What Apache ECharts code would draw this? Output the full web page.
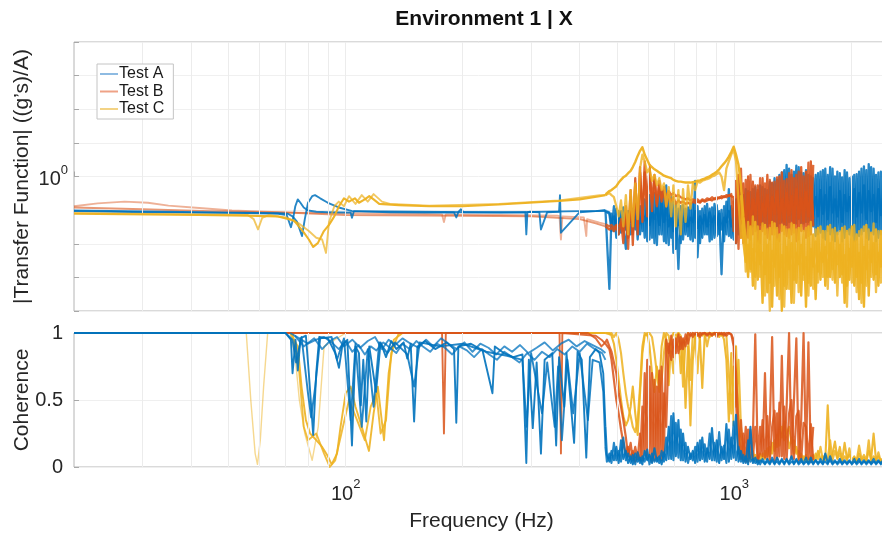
<!DOCTYPE html>
<html><head><meta charset="utf-8">
<script src="https://cdn.jsdelivr.net/npm/echarts@6/dist/echarts.min.js"></script>
<style>html,body{margin:0;padding:0;background:#fff}#c{width:882px;height:535px}</style>
</head><body><div id="c"></div>
<script>
// ---------- shared high-frequency grid (Hz) ----------
const fHi = [470,477,483,490,497,504,511,518,526,533,
541,548,556,564,572,580,588,597,605,614,
623,632,641,650,659,668,678,688,697,707,
718,728,738,749,760,771,782,793,804,816,
827,839,851,864,876,889,901,914,927,941,
954,968,982,996,1010,1025,1040,1055,1070,1085,
1100,1116,1132,1149,1165,1182,1199,1216,1234,1251,
1269,1288,1306,1325,1344,1363,1383,1403,1423,1444,
1464,1486,1507,1529,1551,1573,1596,1619,1642,1666,
1690,1714,1739,1764,1789,1815,1841,1868,1894,1922,
1949,1977,2006,2035,2064,2094,2124,2155,2186,2217,
2249,2282,2315,2348,2382,2416,2451,2486];

// ---------- |Transfer Function| : Test A ----------
const tfA1_f = [20,31,42,56,67,70.5,72.3,73.2,74.2,75.3,76.5,78,80,84,90,100,103,103.8,105,130,160,190,192.6,195,198,201,250,290,291.6,293.5,297,315,318,330,354,356,358,400,440,466];
const tfA1_v = [0.66,0.652,0.649,0.645,0.64,0.63,0.545,0.60,0.70,0.76,0.73,0.69,0.665,0.655,0.652,0.65,0.65,0.61,0.66,0.652,0.65,0.65,0.612,0.655,0.675,0.652,0.652,0.65,0.50,0.65,0.655,0.652,0.53,0.652,0.655,0.80,0.51,0.652,0.66,0.67];
const tfA1_hi = [0.66,0.26,0.64,0.52,0.68,0.50,0.66,0.55,0.42,0.62,
0.50,0.68,0.53,0.72,0.50,0.70,0.48,0.74,0.47,0.78,
0.45,0.80,0.50,0.84,0.46,0.90,0.44,0.78,0.40,0.72,
0.33,0.70,0.47,0.68,0.49,0.72,0.46,0.95,0.38,0.66,
0.48,0.70,0.50,0.68,0.47,0.72,0.49,0.66,0.31,0.70,
0.50,0.86,0.48,0.68,0.45,0.74,0.52,0.80,0.50,0.84,
0.55,0.86,0.52,0.82,0.56,0.88,0.54,0.85,0.58,0.92,
0.55,0.96,0.57,1.05,0.55,1.15,0.58,1.02,0.56,1.14,
0.60,1.05,0.57,1.08,0.58,1.00,0.55,1.02,0.50,1.06,
0.48,1.10,0.52,1.12,0.47,1.00,0.50,1.04,0.46,1.08,
0.52,0.98,0.49,1.02,0.47,1.06,0.50,1.13,0.48,1.16,
0.51,1.10,0.46,1.05,0.50,0.98,0.48,1.00];
const tfA2_f = [20,42,67,71,73,75,77.2,78.5,80,82,83.4,86,90,96,104,150,250,400,466];
const tfA2_v = [0.665,0.652,0.645,0.64,0.62,0.58,0.49,0.60,0.73,0.79,0.80,0.77,0.73,0.69,0.66,0.655,0.65,0.66,0.66];
const tfA2_hi = [0.65,0.64,0.52,0.70,0.48,0.66,0.51,0.69,0.55,0.49,
0.71,0.52,0.74,0.47,0.70,0.52,0.76,0.46,0.80,0.48,
0.82,0.44,0.86,0.50,0.82,0.45,0.80,0.48,0.74,0.42,
0.68,0.45,0.71,0.50,0.69,0.47,0.73,0.48,0.70,0.45,
0.68,0.50,0.72,0.46,0.69,0.48,0.71,0.50,0.67,0.46,
0.74,0.49,0.70,0.47,0.76,0.50,0.82,0.52,0.86,0.54,
0.83,0.55,0.88,0.53,0.90,0.57,0.86,0.55,0.94,0.58,
0.98,0.54,1.02,0.58,1.08,0.56,1.10,0.59,1.06,0.57,
1.12,0.55,1.04,0.58,1.02,0.56,0.98,0.49,1.04,0.51,
1.08,0.47,1.02,0.50,1.10,0.46,1.06,0.52,0.99,0.48,
1.05,0.50,1.00,0.46,1.03,0.49,1.10,0.52,1.08,0.47,
1.12,0.50,1.02,0.48,1.06,0.51,1.00,0.47];
const tfA3_hi = [0.66,0.65,0.58,0.62,0.56,0.64,0.58,0.61,0.53,0.66,
0.58,0.63,0.60,0.66,0.57,0.64,0.59,0.68,0.56,0.66,
0.60,0.70,0.56,0.72,0.58,0.68,0.55,0.64,0.52,0.66,
0.56,0.62,0.58,0.64,0.55,0.61,0.58,0.66,0.54,0.62,
0.57,0.63,0.55,0.65,0.58,0.62,0.56,0.64,0.53,0.61,
0.58,0.66,0.55,0.62,0.60,0.68,0.62,0.72,0.60,0.70,
0.64,0.75,0.62,0.70,0.66,0.78,0.63,0.74,0.68,0.80,
0.66,0.84,0.70,0.78,0.68,0.86,0.72,0.80,0.66,0.88,
0.70,0.82,0.68,0.90,0.72,0.80,0.66,0.78,0.62,0.85,
0.64,0.80,0.60,0.88,0.65,0.76,0.62,0.84,0.58,0.80,
0.66,0.78,0.60,0.86,0.62,0.82,0.65,0.90,0.60,0.84,
0.66,0.80,0.58,0.86,0.63,0.78,0.60,0.82];

// ---------- |Transfer Function| : Test B ----------
const tfB1_f = [20,23,27,31,35,42,51,62,73,100,150,177,179,181,250,350,355,358,361,410,414,416,418,450,466];
const tfB1_v = [0.70,0.725,0.74,0.73,0.705,0.685,0.665,0.655,0.649,0.645,0.64,0.635,0.58,0.635,0.63,0.625,0.622,0.47,0.62,0.612,0.605,0.49,0.60,0.575,0.565];
const tfB1_hi = [0.57,0.55,0.56,0.54,0.56,0.55,0.58,0.52,0.66,0.42,
0.78,0.50,0.92,0.55,1.05,0.60,1.20,0.70,1.10,0.74,
1.02,0.72,0.95,0.78,0.88,0.78,0.84,0.80,0.82,0.79,
0.80,0.78,0.77,0.76,0.77,0.75,0.76,0.75,0.76,0.74,
0.76,0.75,0.77,0.76,0.78,0.76,0.78,0.77,0.79,0.78,
0.80,0.79,0.81,0.52,0.95,0.42,1.10,0.45,0.96,0.48,
1.02,0.50,0.90,0.46,0.98,0.52,0.92,0.48,0.96,0.50,
0.94,0.47,1.00,0.52,0.95,0.49,1.04,0.50,0.98,0.46,
1.06,0.52,1.00,0.48,1.18,0.50,1.15];
const tfB2_f = [20,30,45,73,100,200,300,400,440,466];
const tfB2_v = [0.69,0.675,0.66,0.648,0.63,0.625,0.62,0.60,0.57,0.55];
const tfB2_hi = [0.55,0.53,0.54,0.52,0.55,0.50,0.60,0.45,0.70,0.48,
0.85,0.44,0.98,0.50,1.12,0.58,1.05,0.62,1.15,0.66,
0.98,0.70,0.90,0.74,0.84,0.70,0.80,0.74,0.78,0.72,
0.75,0.73,0.74,0.72,0.73,0.72,0.74,0.73,0.74,0.73,
0.75,0.74,0.75,0.76,0.75,0.77,0.76,0.78,0.77,0.79,
0.78,0.80,0.79,0.78,0.45,1.02,0.48,0.92,0.44,1.00,
0.47,0.94,0.52,0.90,0.45,0.98,0.50,1.02,0.47,0.93,
0.50,0.99,0.46,1.05,0.50,0.97,0.48,1.08,0.51,1.02,
0.47,1.12,0.52,1.06,0.49,1.20,0.55];
const tfB3_start = 53;
const tfB3_hi = [0.75,0.62,0.80,0.58,0.74,0.60,0.82,0.56,0.76,0.63,
0.85,0.58,0.72,0.62,0.80,0.57,0.78,0.64,0.84,0.60,
0.76,0.58,0.82,0.63,0.79,0.56,0.86,0.61,0.77,0.59,
0.83,0.62,0.88,0.60];

// ---------- |Transfer Function| : Test C ----------
const tfC1_f = [20,31,42,56,67,73.6,75.8,78.1,80.4,82.5,84.8,87.9,90.6,93.5,96.1,99,102,105.6,108.2,112,115,118,122,137,164,200,248,297,354,400,450,466];
const tfC1_v = [0.641,0.634,0.63,0.626,0.619,0.59,0.55,0.51,0.47,0.43,0.45,0.52,0.56,0.62,0.70,0.77,0.74,0.77,0.73,0.76,0.79,0.76,0.72,0.71,0.70,0.70,0.715,0.73,0.745,0.76,0.79,0.80];
const tfC1_hi = [0.82,0.84,0.85,0.87,0.89,0.93,0.96,0.99,1.01,1.04,
1.07,1.12,1.19,1.28,1.36,1.42,1.30,1.22,1.15,1.12,
1.09,1.07,1.05,1.03,1.01,1.00,0.99,0.98,0.96,0.95,
0.94,0.94,0.935,0.93,0.93,0.93,0.935,0.94,0.95,0.955,
0.965,0.975,0.99,1.0,1.02,1.04,1.06,1.09,1.13,1.17,
1.21,1.27,1.34,1.43,1.30,1.15,0.90,0.62,0.47,0.30,
0.55,0.27,0.58,0.29,0.52,0.22,0.56,0.25,0.54,0.21,
0.57,0.24,0.50,0.20,0.55,0.26,0.53,0.22,0.56,0.28,
0.54,0.24,0.52,0.21,0.55,0.27,0.50,0.23,0.54,0.29,
0.52,0.27,0.55,0.30,0.53,0.28,0.51,0.30,0.54,0.22,
0.52,0.29,0.55,0.27,0.50,0.23,0.53,0.21,0.56,0.24,
0.51,0.29,0.53,0.27,0.52,0.30,0.50,0.28];
const tfC2_f = [20,42,56,58,59.5,61,63.4,70.6,75.8,80.4,84,87,89,90.6,93.5,96,99,102,106,110,114,118,124,130,164,248,354,450,466];
const tfC2_v = [0.645,0.635,0.63,0.60,0.53,0.61,0.63,0.61,0.57,0.52,0.48,0.47,0.40,0.58,0.70,0.74,0.70,0.79,0.72,0.80,0.74,0.81,0.74,0.72,0.705,0.72,0.75,0.80,0.80];
const tfC2_hi = [0.80,0.82,0.80,0.78,0.70,0.62,0.75,0.55,0.80,0.50,
0.85,0.55,0.92,0.60,1.10,1.30,1.20,1.05,1.10,0.95,
1.02,0.90,0.98,0.85,0.92,0.70,0.88,0.62,0.90,0.55,
0.85,0.50,0.86,0.58,0.90,0.68,0.92,0.85,0.94,0.93,
0.95,0.96,0.97,0.98,1.0,1.01,1.03,1.05,1.0,0.85,
1.1,1.2,1.3,1.38,1.2,0.75,0.48,0.60,0.32,0.58,
0.32,0.62,0.26,0.55,0.30,0.57,0.24,0.53,0.20,0.58,
0.27,0.54,0.23,0.56,0.21,0.53,0.26,0.57,0.22,0.53,
0.25,0.56,0.29,0.54,0.24,0.58,0.26,0.53,0.28,0.55,
0.30,0.52,0.26,0.56,0.29,0.54,0.24,0.52,0.28,0.55,
0.21,0.53,0.28,0.56,0.25,0.52,0.22,0.55,0.27,0.53,
0.30,0.57,0.25,0.52,0.28,0.54,0.26,0.51];
const tfC3_start = 56;
const tfC3_hi = [0.80,0.45,0.36,0.44,0.33,0.42,0.30,0.46,0.35,0.40,
0.31,0.44,0.28,0.41,0.34,0.47,0.30,0.39,0.27,0.43,
0.33,0.45,0.29,0.40,0.35,0.44,0.31,0.38,0.28,0.42,
0.34,0.46,0.32,0.40,0.36,0.43,0.30,0.45,0.33,0.41,
0.35,0.44,0.31,0.39,0.27,0.42,0.34,0.46,0.30,0.40,
0.28,0.43,0.33,0.41,0.36,0.45,0.31,0.40,0.34,0.44,
0.32,0.41];

// ---------- Coherence : Test A ----------
const coA1_f = [20,70,72.3,73,74.3,75.3,76.5,79,80.4,82.5,84,85.5,90,94,96.1,98,101,103.8,106,108.2,109.4,111,113,115,119.7,123,127,131,135,141,144,147,150,153,160,170,182,190,192.6,195,210,225,238.6,242,255,270,285,291.6,296,303,310,318,325,340,348,354,365,370,387,395,405,416,425,440,450,460,466];
const coA1_v = [1,1,0.95,0.70,0.95,0.72,0.96,0.98,0.70,0.24,0.70,0.97,0.96,0.85,0.74,0.90,0.95,0.16,0.90,0.85,0.46,0.80,0.34,0.90,0.56,0.93,0.82,0.94,0.88,0.93,0.81,0.92,0.34,0.90,0.94,0.88,0.93,0.88,0.33,0.90,0.92,0.87,0.55,0.90,0.85,0.82,0.84,0.03,0.80,0.29,0.78,0.10,0.80,0.85,0.16,0.82,0.45,0.85,0.18,0.86,0.80,0.07,0.82,0.88,0.85,0.70,0.30];
const coA1_hi = [0.09,0.04,0.12,0.05,0.15,0.03,0.20,0.06,0.12,0.03,
0.08,0.02,0.10,0.04,0.07,0.02,0.12,0.05,0.09,0.03,
0.14,0.04,0.08,0.02,0.11,0.05,0.30,0.06,0.40,0.08,
0.35,0.05,0.25,0.04,0.15,0.06,0.12,0.03,0.18,0.05,
0.22,0.04,0.14,0.06,0.29,0.05,0.20,0.03,0.15,0.06,
0.32,0.04,0.22,0.07,0.39,0.04,0.12,0.03,0.08,0.02,
0.30,0.03,0.07,0.02,0.05,0.04,0.02,0.06,0.03,0.05,
0.02,0.07,0.03,0.05,0.02,0.06,0.03,0.08,0.02,0.05,
0.03,0.06,0.02,0.04,0.03,0.07,0.02,0.05,0.03,0.04,
0.02,0.10,0.03,0.05,0.02,0.04,0.03,0.06,0.02,0.04,
0.03,0.05,0.02,0.04,0.03,0.06,0.02,0.04,0.03,0.05,
0.02,0.04,0.03,0.05,0.02,0.04,0.03,0.04];
const coA2_f = [20,70,73,74.5,77,80,81.5,83.5,86,92,95,99,103,106,110,114,118,122,128,134,144,150,155,175,200,230,260,285,292,300,320,330,345,352,360,372,385,400,420,432,450,460,466];
const coA2_v = [1,1,0.95,0.78,0.97,0.55,0.37,0.60,0.96,0.97,0.80,0.96,0.35,0.92,0.30,0.88,0.45,0.93,0.85,0.93,0.84,0.60,0.93,0.90,0.92,0.86,0.83,0.80,0.30,0.85,0.40,0.78,0.30,0.75,0.20,0.80,0.40,0.85,0.35,0.80,0.78,0.56,0.15];
const coA2_hi = [0.04,0.10,0.03,0.18,0.05,0.12,0.04,0.22,0.05,0.10,
0.03,0.09,0.02,0.11,0.03,0.08,0.04,0.13,0.02,0.10,
0.04,0.07,0.03,0.12,0.04,0.22,0.06,0.38,0.05,0.33,
0.07,0.28,0.05,0.18,0.03,0.10,0.05,0.15,0.04,0.20,
0.06,0.17,0.04,0.25,0.05,0.18,0.04,0.26,0.05,0.16,
0.03,0.28,0.06,0.34,0.05,0.15,0.04,0.09,0.03,0.20,
0.04,0.06,0.03,0.05,0.02,0.06,0.03,0.04,0.02,0.07,
0.03,0.04,0.02,0.06,0.03,0.05,0.02,0.04,0.03,0.06,
0.02,0.04,0.03,0.07,0.02,0.04,0.03,0.05,0.02,0.06,
0.03,0.04,0.02,0.08,0.03,0.05,0.02,0.04,0.03,0.05,
0.02,0.04,0.03,0.06,0.02,0.04,0.03,0.05,0.02,0.04,
0.03,0.06,0.02,0.04,0.03,0.05,0.02,0.04];
const coA3_f = [72,76,80,84,88,92,96,100,104,108,112,116,120,125,130,135,140,146,152,158,165,172,180,188,196,205,214,224,234,245,256,268,280,293,306,320,335,350,366,383,400,418,437,457,466];
const coA3_v = [1,0.96,0.92,0.95,0.97,0.93,0.88,0.94,0.86,0.91,0.84,0.90,0.87,0.93,0.89,0.85,0.92,0.88,0.94,0.90,0.86,0.92,0.89,0.84,0.90,0.87,0.82,0.88,0.84,0.80,0.86,0.82,0.78,0.85,0.80,0.86,0.82,0.88,0.84,0.90,0.86,0.92,0.88,0.85,0.80];
const coA4_f = [74,78,83,87,91,95,99,104,109,114,119,124,129,134,140,147,154,161,168,176,184,193,202,212,222,233,244,256,268,281,295,310,325,341,358,375,393,412,432,453,466];
const coA4_v = [0.98,0.90,0.96,0.88,0.94,0.97,0.90,0.95,0.89,0.94,0.97,0.88,0.95,0.91,0.96,0.92,0.89,0.95,0.90,0.96,0.92,0.88,0.93,0.86,0.92,0.89,0.84,0.90,0.86,0.91,0.85,0.89,0.93,0.87,0.92,0.95,0.90,0.94,0.91,0.88,0.85];

// ---------- Coherence : Test B ----------
const coB1_f = [20,177,179,181,355,358,361,440,455,466];
const coB1_v = [1,1,0.25,1,1,0.10,1,0.98,0.95,0.92];
const coB1_hi = [0.92,0.88,0.80,0.65,0.50,0.40,0.28,0.18,0.10,0.15,
0.06,0.12,0.04,0.10,0.05,0.45,0.10,0.80,0.08,0.70,
0.05,0.60,0.07,0.75,0.10,0.95,0.85,0.98,0.82,0.96,
0.85,0.97,0.88,0.99,0.92,1.0,0.97,1.0,0.98,1.0,
0.99,1.0,0.98,1.0,0.99,1.0,0.97,1.0,0.99,1.0,
0.98,1.0,0.99,0.95,0.70,0.30,0.06,0.25,0.04,0.28,
0.07,0.22,0.99,0.05,0.30,0.08,0.70,0.06,0.32,0.97,
0.05,0.40,0.08,0.83,0.06,0.45,1.0,0.07,0.48,0.96,
0.05,0.35,1.0,0.06,0.93,0.04,0.30];
const coB2_f = [20,420,440,455,466];
const coB2_v = [1,1,0.96,0.90,0.93];
const coB2_hi = [0.95,0.90,0.86,0.78,0.70,0.55,0.45,0.35,0.22,0.08,
0.18,0.05,0.15,0.06,0.25,0.05,0.70,0.06,0.75,0.04,
0.65,0.07,0.72,0.05,0.55,0.30,0.92,0.80,0.95,0.85,
0.99,0.88,0.96,0.90,1.0,0.98,1.0,0.99,1.0,0.97,
1.0,1.0,0.99,1.0,0.98,1.0,1.0,0.99,1.0,0.98,
1.0,1.0,0.99,0.90,0.50,0.10,0.35,0.05,0.30,0.04,
0.28,0.06,0.30,0.05,0.10,0.35,0.07,0.38,0.05,0.30,
0.42,0.06,0.48,0.08,0.45,0.05,0.40,0.50,0.06,0.38,
0.42,0.05,0.33,0.30,0.06,0.32,0.05];

// ---------- Coherence : Test C ----------
const coC1_f = [20,72,75.3,77,79,81,84,87,90,92,95,97,100,103,106,110,114.8,118,121,125.5,129,133,140,466];
const coC1_v = [1,1,0.9,0.6,0.35,0.25,0.2,0.15,0.08,0.02,0.10,0.3,0.55,0.6,0.45,0.3,0.12,0.4,0.6,0.2,0.7,0.95,1,1];
const coC1_hi = [1,1,0.98,0.92,0.80,0.65,0.50,0.38,0.31,0.35,
0.45,0.60,0.40,0.24,0.55,0.85,0.98,1,0.90,0.70,
0.56,0.75,0.60,0.90,1,0.95,0.61,0.95,1,0.98,
1,0.70,0.95,0.44,0.90,0.31,0.80,0.98,1,0.95,
0.59,0.98,1,0.97,1,0.99,1,0.97,1,0.95,
0.80,0.34,0.85,0.31,0.90,0.40,0.10,0.05,0.08,0.04,
0.07,0.05,0.09,0.04,0.10,0.06,0.12,0.08,0.15,0.10,
0.20,0.15,0.28,0.22,0.34,0.25,0.30,0.18,0.20,0.10,
0.12,0.06,0.08,0.04,0.07,0.05,0.09,0.05,0.12,0.06,
0.08,0.05,0.46,0.06,0.10,0.19,0.07,0.15,0.05,0.18,
0.06,0.09,0.05,0.08,0.04,0.10,0.05,0.07,0.04,0.12,
0.06,0.25,0.05,0.08,0.04,0.07,0.05,0.06];
const coC2_f = [20,73,76,78,80,84,88,91,94,97.5,102,107,112,116,120,123,127,131,137,466];
const coC2_v = [1,1,0.7,0.3,0.2,0.25,0.1,0.0,0.05,0.25,0.5,0.35,0.2,0.45,0.55,0.25,0.35,0.85,1,1];
const coC2_hi = [1,0.99,1,0.97,1,0.95,0.85,0.70,0.55,0.45,
0.38,0.30,0.26,0.35,0.60,0.90,1,0.98,1,0.97,
0.85,0.70,0.56,0.65,0.85,1,0.98,0.85,0.70,0.95,
1,0.98,0.60,0.95,1,0.65,1,0.97,0.70,1,
0.98,1,0.90,1,0.98,1,0.99,1,0.98,1,
0.98,0.70,0.40,0.75,0.45,0.80,0.30,0.12,0.05,0.10,
0.06,0.12,0.05,0.08,0.05,0.10,0.06,0.14,0.08,0.18,
0.12,0.24,0.16,0.30,0.20,0.26,0.14,0.22,0.10,0.15,
0.06,0.10,0.05,0.09,0.04,0.08,0.05,0.10,0.06,0.15,
0.05,0.09,0.06,0.20,0.05,0.12,0.06,0.10,0.04,0.08,
0.05,0.14,0.04,0.07,0.05,0.16,0.06,0.09,0.05,0.20,
0.04,0.08,0.05,0.11,0.04,0.07,0.05,0.08];
const coC3_f = [20,55.5,57,58.5,59.3,60.3,61.5,63,72,74,76,78.5,82,85,88,100,466];
const coC3_v = [1,1,0.5,0.1,0.02,0.2,0.6,1,1,0.85,0.5,0.25,0.05,0.3,0.9,1,1];

// ---------- axes / labels ----------
const legendNames = ['Test A','Test B','Test C'];
const xGridFreqs = [30,40,50,60,70,80,90,100,200,300,400,500,600,700,800,900,1000,2000];
const coherenceTicks = [0,0.5,1];

// ---------- build ----------
const FONT = 'Liberation Sans, Arial, Helvetica, sans-serif';
const BLUE = '#0072BD', ORANGE = '#D95319', YELLOW = '#EDB120';
function zip(f, v){ const out = []; for (let i = 0; i < v.length; i++) out.push([f[i], v[i]]); return out; }
function line(name, data, color, opacity, xi, yi, z, width){
  return {type:'line', name, data, xAxisIndex:xi, yAxisIndex:yi, z,
    showSymbol:false, symbol:'none', clip: yi === 0, silent:true, animation:false,
    lineStyle:{color, width, opacity, join:'round'}, itemStyle:{color}};
}
const series = [];
// a run = low-frequency part + noisy high-frequency part on the shared grid
function addRun(name, color, panel, fLo, vLo, vHi, hiStart, o){
  const xi = panel, yi = panel === 0 ? 0 : 2;
  let lo = fLo ? zip(fLo, vLo) : [];
  if (lo.length) series.push(line(name, lo, color, o.loOp, xi, yi, o.loZ, o.loW || 1.9));
  if (vHi) {
    const hi = zip(fHi.slice(hiStart || 0), vHi);
    const data = lo.length ? [lo[lo.length - 1]].concat(hi) : hi;
    series.push(line(name, data, color, o.hiOp, xi, yi, o.hiZ, o.hiW || 2.3));
  }
}
const gridMarks = (xi, yi) => ({type:'line', xAxisIndex:xi, yAxisIndex:yi, data:[], z:0, silent:true,
  markLine:{silent:true, symbol:['none','none'], animation:false, label:{show:false},
    lineStyle:{color:'#ececec', width:1, type:'solid'},
    data: xGridFreqs.map(f => ({xAxis:f}))}});
series.push(gridMarks(0,0), gridMarks(1,2));

// top panel
addRun('Test B', ORANGE, 0, tfB1_f, tfB1_v, tfB1_hi, 0, {loOp:0.45, hiOp:0.85, loZ:2, hiZ:4});
addRun('Test B', ORANGE, 0, tfB2_f, tfB2_v, tfB2_hi, 0, {loOp:0.6, hiOp:0.9, loZ:2, hiZ:4});
addRun('Test B', ORANGE, 0, null, null, tfB3_hi, tfB3_start, {hiOp:0.9, hiZ:4});
addRun('Test A', BLUE, 0, tfA1_f, tfA1_v, tfA1_hi, 0, {loOp:0.85, hiOp:0.85, loZ:3, hiZ:3});
addRun('Test A', BLUE, 0, tfA2_f, tfA2_v, tfA2_hi, 0, {loOp:0.85, hiOp:0.85, loZ:3, hiZ:3});
addRun('Test A', BLUE, 0, null, null, tfA3_hi, 0, {hiOp:0.85, hiZ:3});
addRun('Test C', YELLOW, 0, tfC2_f, tfC2_v, tfC2_hi, 0, {loOp:0.7, hiOp:0.8, loZ:5, hiZ:5});
addRun('Test C', YELLOW, 0, null, null, tfC3_hi, tfC3_start, {hiOp:0.85, hiZ:5});
addRun('Test C', YELLOW, 0, tfC1_f, tfC1_v, tfC1_hi, 0, {loOp:0.95, hiOp:0.95, loZ:5, hiZ:5, loW:2.1, hiW:2.4});
// coherence panel
addRun('Test C', YELLOW, 1, coC3_f, coC3_v, null, 0, {loOp:0.5, loZ:3, loW:1.4});
addRun('Test C', YELLOW, 1, coC2_f, coC2_v, coC2_hi, 0, {loOp:0.85, hiOp:0.85, loZ:3, hiZ:3, hiW:2.1});
addRun('Test C', YELLOW, 1, coC1_f, coC1_v, coC1_hi, 0, {loOp:0.9, hiOp:0.9, loZ:3, hiZ:3, hiW:2.1});
addRun('Test B', ORANGE, 1, coB2_f, coB2_v, coB2_hi, 0, {loOp:0.85, hiOp:0.85, loZ:4, hiZ:4, hiW:2.2});
addRun('Test B', ORANGE, 1, coB1_f, coB1_v, coB1_hi, 0, {loOp:0.85, hiOp:0.85, loZ:4, hiZ:4, hiW:2.2});
addRun('Test A', BLUE, 1, coA4_f, coA4_v, null, 0, {loOp:0.75, loZ:5});
addRun('Test A', BLUE, 1, coA3_f, coA3_v, null, 0, {loOp:0.75, loZ:5});
addRun('Test A', BLUE, 1, coA2_f, coA2_v, coA2_hi, 0, {loOp:0.85, hiOp:0.85, loZ:5, hiZ:5, hiW:2.1});
addRun('Test A', BLUE, 1, coA1_f, coA1_v, coA1_hi, 0, {loOp:0.9, hiOp:0.9, loZ:5, hiZ:5, hiW:2.1});

const supRich = {
  b:{fontSize:20, fontFamily:FONT, color:'#262626', lineHeight:26, verticalAlign:'bottom'},
  s:{fontSize:13, fontFamily:FONT, color:'#262626', lineHeight:13, verticalAlign:'top'}
};
const tickStyle = {show:true, inside:true, length:5, lineStyle:{color:'#a8a8a8'}};

const chart = echarts.init(document.getElementById('c'), null, {renderer:'canvas'});
chart.setOption({
  animation:false,
  backgroundColor:'#fff',
  title:{text:'Environment 1 | X', left:479, top:4, textAlign:'center',
    textStyle:{fontSize:21, fontWeight:'bold', color:'#111', fontFamily:FONT}},
  legend:{orient:'vertical', left:97, top:64, padding:[2,9,2,3], itemGap:1.5, z:20,
    icon:'rect', itemWidth:18, itemHeight:2,
    backgroundColor:'#fff', borderColor:'#c4c4c4', borderWidth:1, borderRadius:0,
    textStyle:{fontSize:16, lineHeight:16, color:'#1a1a1a', fontFamily:FONT, padding:[0,0,0,-4]},
    data:[
      {name:legendNames[0], itemStyle:{color:'#8ebbe2'}},
      {name:legendNames[1], itemStyle:{color:'#efa286'}},
      {name:legendNames[2], itemStyle:{color:'#f3d385'}}
    ]},
  grid:[
    {left:74, top:42, width:815, height:269, show:true, borderColor:'#b4b4b4', borderWidth:1, outerBoundsMode:'none'},
    {left:74, top:333, width:815, height:134, show:true, borderColor:'#b4b4b4', borderWidth:1, outerBoundsMode:'none'}
  ],
  xAxis:[
    {type:'log', gridIndex:0, min:20, max:2500, logBase:10,
      axisLine:{show:false}, axisTick:tickStyle, axisLabel:{show:false}, splitLine:{show:false}},
    {type:'log', gridIndex:1, min:20, max:2500, logBase:10,
      name:'Frequency (Hz)', nameLocation:'middle', nameGap:44, nameMoveOverlap:false,
      nameTextStyle:{fontSize:21, color:'#262626', fontFamily:FONT},
      axisLine:{show:false}, axisTick:tickStyle, splitLine:{show:false},
      axisLabel:{margin:11, showMinLabel:false, showMaxLabel:false, rich:supRich,
        formatter:function(v){ const e = Math.round(Math.log10(v));
          return Math.abs(Math.log10(v) - e) < 1e-6 ? '{b|10}{s|' + e + '}' : ''; }}}
  ],
  yAxis:[
    {type:'log', gridIndex:0, min:Math.pow(10,-0.7), max:Math.pow(10,0.7), logBase:10, show:false},
    {type:'value', gridIndex:0, min:-4, max:4, interval:1, position:'left',
      name:'|Transfer Function| ((g\u2019s)/A)', nameLocation:'middle', nameGap:41, nameMoveOverlap:false,
      nameTextStyle:{fontSize:21, color:'#262626', fontFamily:FONT},
      axisLine:{show:false}, axisTick:tickStyle,
      splitLine:{show:true, lineStyle:{color:'#f0f0f0', width:1}},
      axisLabel:{margin:6, rich:supRich, formatter:function(v){ return v === 0 ? '{b|10}{s|0}' : ''; }}},
    {type:'value', gridIndex:1, min:0, max:1, interval:0.5, position:'left',
      name:'Coherence', nameLocation:'middle', nameGap:41, nameMoveOverlap:false,
      nameTextStyle:{fontSize:21, color:'#262626', fontFamily:FONT},
      axisLine:{show:false}, axisTick:tickStyle,
      splitLine:{show:true, lineStyle:{color:'#efefef', width:1}},
      axisLabel:{margin:11, fontSize:20, color:'#262626', fontFamily:FONT,
        formatter:function(v){ return coherenceTicks.indexOf(v) >= 0 ? String(v) : ''; }}}
  ],
  series: series
});
</script></body></html>
